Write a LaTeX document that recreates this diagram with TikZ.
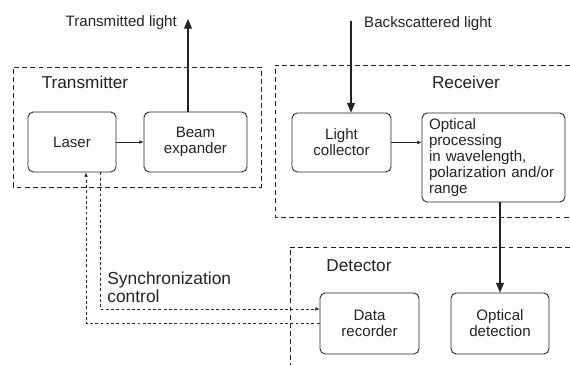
\documentclass[tikz,border=0pt]{standalone}
\usepackage{fontspec}
\setmainfont{Liberation Sans}
\usetikzlibrary{arrows.meta,positioning,calc}
\definecolor{lidarink}{RGB}{35,35,35}

\begin{document}
\begin{tikzpicture}[
    font=\fontsize{8.6}{9}\selectfont,
    unit/.style={draw=lidarink, rounded corners=3pt, line width=0.5pt, minimum height=1.2cm, align=center, text=lidarink},
    group/.style={draw=lidarink, line width=0.5pt, dash pattern=on 2.8pt off 1.8pt},
    title/.style={font=\fontsize{9.8}{10}\selectfont, text=lidarink},
    lbl/.style={text=lidarink},
    bigarr/.style={-{Triangle[length=5.5pt,width=4.5pt]}, line width=0.6pt, draw=lidarink},
    arr/.style={-{Latex[length=2.4pt,width=2.2pt]}, line width=0.45pt, draw=lidarink},
    sync/.style={arr, dash pattern=on 1.6pt off 1.4pt}
  ]
    \useasboundingbox (0,0) rectangle (11.4,7.3);

    % frames
    \draw[group] (0.26,3.56) rectangle (5.22,5.96);
    \draw[group] (11.4,6.0) -- (5.5,6.0) -- (5.5,2.96) -- (11.4,2.96);
    \draw[group] (11.4,2.36) -- (5.8,2.36) -- (5.8,0);

    \node[title] (ttx) at (1.7,5.66) {Transmitter};
    \node[title] (trx) at (9.32,5.66) {Receiver};
    \node[title] (tdet) at (7.18,1.98) {Detector};

    \node[unit, minimum width=1.76cm] (laser) at (1.44,4.46) {Laser};
    \node[unit, minimum width=2.06cm] (beam) at (3.91,4.46) {Beam\\expander};
    \node[unit, minimum width=1.98cm, minimum height=1.18cm] (coll) at (6.83,4.45) {Light\\collector};
    \node[unit, text width=2.58cm, inner xsep=0.14cm, minimum height=1.78cm, align=left] (proc) at (9.87,4.15) {Optical\\processing\\in wavelength,\\polarization and/or\\range};
    \node[unit, minimum width=1.98cm, minimum height=1.22cm] (rec) at (7.39,0.83) {Data\\recorder};
    \node[unit, minimum width=1.96cm, minimum height=1.22cm] (det) at (10.0,0.83) {Optical\\detection};

    \coordinate (txout) at (3.76,6.92);
    \coordinate (rxin) at (7.02,6.88);
    \node[lbl, anchor=east] (txlbl) at (3.66,6.84) {Transmitted light};
    \node[lbl, anchor=west] (rxlbl) at (7.16,6.82) {Backscattered light};

    \draw[bigarr] (txout |- beam.north) -- (txout);
    \draw[bigarr] (rxin) -- (rxin |- coll.north);
    \draw[bigarr] (det.north |- proc.south) -- (det.north);
    \draw[arr] (laser) -- (beam);
    \draw[arr] (coll.east) -- (coll.east -| proc.west);

    % synchronization loop
    \draw[sync] ($(laser.south)+(0.56,0)$) |- ($(rec.west)+(0,0.29)$);
    \draw[sync] (rec.west) -| ($(laser.south)+(0.28,0)$);
    \node[lbl, anchor=west, align=left, inner xsep=0pt, font=\fontsize{9.9}{8.6}\selectfont] (synclbl) at (2.14,1.55) {Synchronization\\control};
  \end{tikzpicture}
\end{document}
